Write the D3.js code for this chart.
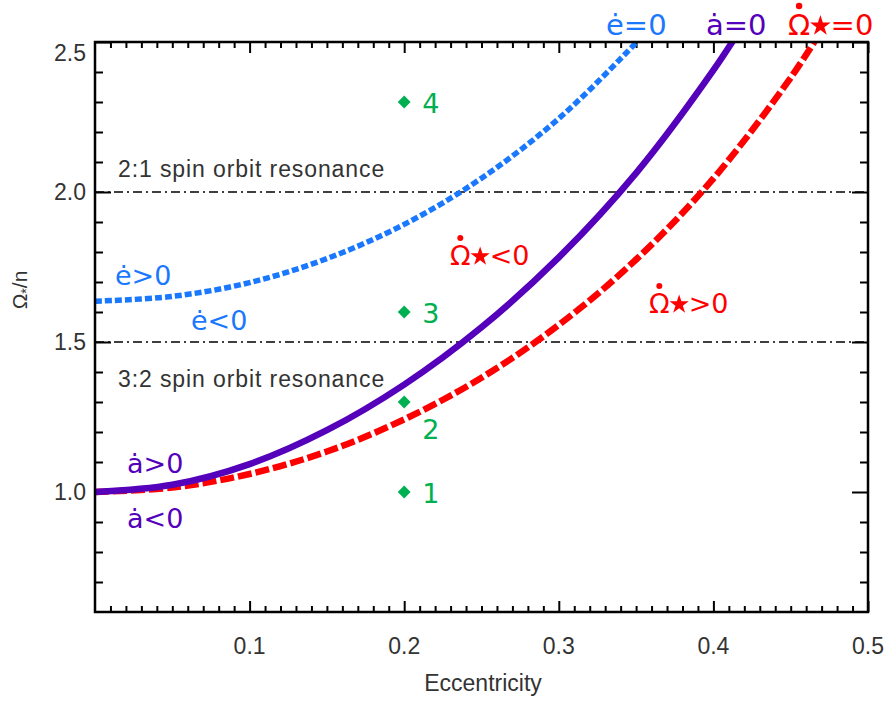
<!DOCTYPE html>
<html><head><meta charset="utf-8">
<script src="https://cdn.jsdelivr.net/npm/d3@7"></script>
<style>body{margin:0;background:#fff}svg{display:block}</style>
</head><body>
<svg id="chart" width="887" height="702"></svg>
<script>
// ---- data ----
const eDotZeroE = [0, 0.05, 0.10, 0.15, 0.20, 0.25, 0.30, 0.35, 0.36];
const eDotZeroW = [1.636, 1.652, 1.698, 1.778, 1.892, 2.046, 2.245, 2.498, 2.556];
const aDotZeroE = [0, 0.05, 0.10, 0.15, 0.20, 0.25, 0.30, 0.35, 0.40, 0.42];
const aDotZeroW = [1.000, 1.024, 1.093, 1.206, 1.358, 1.549, 1.782, 2.063, 2.406, 2.564];
const omDotZeroE = [0, 0.05, 0.10, 0.15, 0.20, 0.25, 0.30, 0.35, 0.40, 0.45, 0.47];
const omDotZeroW = [1.000, 1.015, 1.060, 1.135, 1.242, 1.381, 1.557, 1.775, 2.045, 2.381, 2.539];
const pointE = [0.2, 0.2, 0.2, 0.2];
const pointW = [1.0, 1.3, 1.6, 2.3];
const pointLabels = ["1", "2", "3", "4"];
const resonanceW = [2.0, 1.5];
const resonanceLabels = ["2:1 spin orbit resonance", "3:2 spin orbit resonance"];
const xMajorTicks = [0.1, 0.2, 0.3, 0.4, 0.5];
const xTickLabels = ["0.1", "0.2", "0.3", "0.4", "0.5"];
const yMajorTicks = [1.0, 1.5, 2.0, 2.5];
const yTickLabels = ["1.0", "1.5", "2.0", "2.5"];
const xDomain = [0, 0.5];
const yDomain = [0.6, 2.5];

// ---- layout ----
const svg = d3.select("#chart");
const L = 95, R = 868, T = 42, B = 612;
const x = d3.scaleLinear().domain(xDomain).range([L, R]);
const y = d3.scaleLinear().domain(yDomain).range([B, T]);

const BLUE = "#1a78ff", PURPLE = "#5500bb", RED = "#ff0000", GREEN = "#00b050";
const SANS = "'Liberation Sans', Arial, sans-serif";
const DV = "'DejaVu Sans', sans-serif";

svg.append("defs").append("clipPath").attr("id", "plotclip")
  .append("rect").attr("x", L).attr("y", T).attr("width", R - L).attr("height", B - T);

// ---- ticks ----
function tickGroup(axisFn, transform, values, size) {
  const g = svg.append("g").attr("transform", transform)
    .call(axisFn.tickValues(values).tickSize(size).tickFormat(""));
  g.select(".domain").remove();
  g.selectAll("line").attr("stroke", "#000").attr("stroke-width", 2);
  return g;
}
const xMinor = d3.range(1, 50).map(i => i / 100).filter(v => Math.abs(v * 10 - Math.round(v * 10)) > 1e-6);
const yMinor = d3.range(7, 25).map(i => i / 10).filter(v => Math.abs(v * 2 - Math.round(v * 2)) > 1e-6);
tickGroup(d3.axisBottom(x), `translate(0,${B})`, xMinor, -6);
tickGroup(d3.axisBottom(x), `translate(0,${B})`, xMajorTicks, -11);
tickGroup(d3.axisTop(x), `translate(0,${T})`, xMinor, -6);
tickGroup(d3.axisTop(x), `translate(0,${T})`, xMajorTicks, -11);
tickGroup(d3.axisLeft(y), `translate(${L},0)`, yMinor, -8);
tickGroup(d3.axisLeft(y), `translate(${L},0)`, yMajorTicks, -16);
tickGroup(d3.axisRight(y), `translate(${R},0)`, yMinor, -8);
tickGroup(d3.axisRight(y), `translate(${R},0)`, yMajorTicks, -16);

// tick labels
svg.append("g").selectAll("text").data(xMajorTicks).join("text")
  .attr("x", d => x(d)).attr("y", 654)
  .attr("text-anchor", "middle").attr("font-family", SANS).attr("font-size", 23)
  .attr("fill", "#333").text((d, i) => xTickLabels[i]);
svg.append("g").selectAll("text").data(yMajorTicks).join("text")
  .attr("x", 86).attr("y", d => Math.max(y(d), 53) + 8)
  .attr("text-anchor", "end").attr("font-family", SANS).attr("font-size", 23)
  .attr("fill", "#333").text((d, i) => yTickLabels[i]);

// axis titles
svg.append("text").attr("x", 483).attr("y", 691).attr("text-anchor", "middle")
  .attr("font-family", SANS).attr("font-size", 23).attr("fill", "#333").text("Eccentricity");
const yl = svg.append("text").attr("transform", "translate(27,290) rotate(-90)")
  .attr("text-anchor", "middle").attr("font-family", SANS).attr("font-size", 21).attr("fill", "#333");
yl.append("tspan").text("Ω");
yl.append("tspan").attr("font-size", 14).attr("dy", 4).text("*");
yl.append("tspan").attr("dy", -4).text("/n");

// ---- resonance lines ----
svg.append("g").selectAll("line").data(resonanceW).join("line")
  .attr("x1", L).attr("x2", R).attr("y1", d => y(d)).attr("y2", d => y(d))
  .attr("stroke", "#000").attr("stroke-width", 1.6).attr("stroke-dasharray", "9,4,2,4");
svg.append("g").selectAll("text").data(resonanceW).join("text")
  .attr("x", 118).attr("y", (d, i) => i === 0 ? y(d) - 15 : y(d) + 45)
  .attr("font-family", SANS).attr("font-size", 23).attr("letter-spacing", 0.9)
  .attr("fill", "#333").text((d, i) => resonanceLabels[i]);

// ---- curves ----
const line = d3.line().x(d => x(d[0])).y(d => y(d[1])).curve(d3.curveCatmullRom);
const curves = svg.append("g").attr("clip-path", "url(#plotclip)");
curves.append("path").datum(d3.zip(omDotZeroE, omDotZeroW)).attr("d", line)
  .attr("fill", "none").attr("stroke", RED).attr("stroke-width", 6.5).attr("stroke-dasharray", "14,4");
curves.append("path").datum(d3.zip(eDotZeroE, eDotZeroW)).attr("d", line)
  .attr("fill", "none").attr("stroke", BLUE).attr("stroke-width", 5.5).attr("stroke-dasharray", "7,3");
curves.append("path").datum(d3.zip(aDotZeroE, aDotZeroW)).attr("d", line)
  .attr("fill", "none").attr("stroke", PURPLE).attr("stroke-width", 6.5);

// ---- frame ----
svg.append("rect").attr("x", L).attr("y", T).attr("width", R - L).attr("height", B - T)
  .attr("fill", "none").attr("stroke", "#000").attr("stroke-width", 2.5);

// ---- marked points ----
svg.append("g").selectAll("path").data(pointE).join("path")
  .attr("transform", (d, i) => `translate(${x(d)},${y(pointW[i])}) rotate(45)`)
  .attr("d", d3.symbol(d3.symbolSquare, 82)).attr("fill", GREEN);
svg.append("g").selectAll("text").data(pointE).join("text")
  .attr("x", d => x(d) + 18).attr("y", (d, i) => y(pointW[i]) + (i === 1 ? 37 : 11))
  .attr("font-family", DV).attr("font-size", 27).attr("fill", GREEN)
  .text((d, i) => pointLabels[i]);

// ---- curve annotations ----
function label(xp, yp, color, size, text) {
  return svg.append("text").attr("x", xp).attr("y", yp).attr("font-family", DV)
    .attr("font-size", size).attr("fill", color).text(text);
}
// Ω with dot above, star subscript, then the relation
function omegaLabel(xp, yp, color, size, rest) {
  const k = size / 27;
  const t = svg.append("text").attr("x", xp).attr("y", yp).attr("font-family", DV)
    .attr("font-size", size).attr("fill", color);
  t.append("tspan").text("\u03A9");
  const starW = 19 * k;
  t.append("tspan").attr("dx", starW).text(rest);
  const ext = t.node().getExtentOfChar(0);
  svg.append("circle").attr("cx", ext.x + ext.width / 2).attr("cy", yp - size * 1.0)
    .attr("r", 3 * k).attr("fill", color);
  const sx = ext.x + ext.width + starW / 2;
  svg.append("path").attr("transform", `translate(${sx},${yp - 8.5 * k})`)
    .attr("d", d3.symbol(d3.symbolStar, 115 * k * k)).attr("fill", color);
  return t;
}
label(606, 35, BLUE, 29, "\u0117=0");
label(706, 35, PURPLE, 29, "\u0227=0");
omegaLabel(788, 35, RED, 29, "=0");
label(115, 285, BLUE, 27, "\u0117>0");
label(191, 330, BLUE, 27, "\u0117<0");
omegaLabel(450, 265, RED, 27, "<0");
omegaLabel(649, 313, RED, 27, ">0");
label(127, 473, PURPLE, 27, "\u0227>0");
label(127, 528, PURPLE, 27, "\u0227<0");
</script>
</body></html>
